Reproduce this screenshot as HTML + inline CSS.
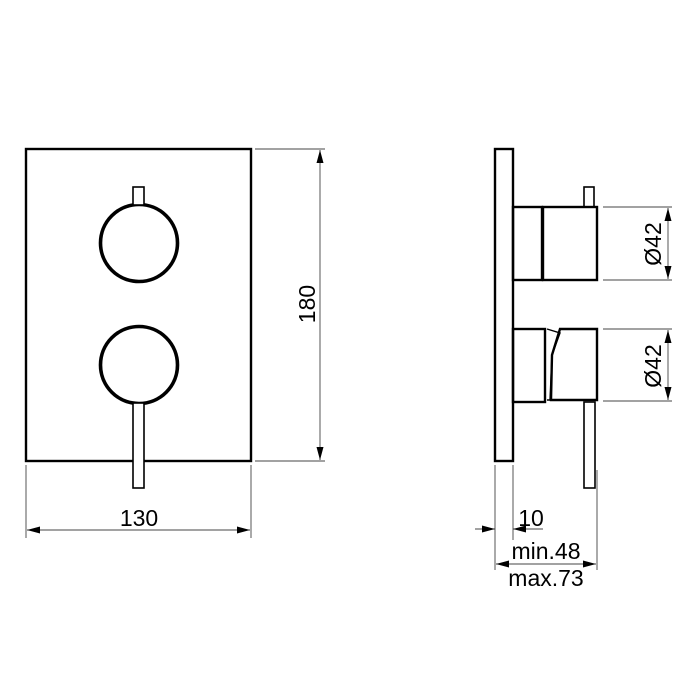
<!DOCTYPE html>
<html><head><style>body{margin:0;background:#fff}svg{display:block}</style></head><body>
<svg width="700" height="700" viewBox="0 0 700 700" xmlns="http://www.w3.org/2000/svg" font-family="Liberation Sans, sans-serif">
<defs><marker id="a" markerWidth="13" markerHeight="7" refX="13" refY="3.5" orient="auto-start-reverse" markerUnits="userSpaceOnUse"><path d="M0,0 L13,3.5 L0,7 Z" fill="#000"/></marker></defs>
<g fill="none" stroke="#000" stroke-width="2.4">
<rect x="26" y="149" width="225" height="312"/>
<circle cx="139" cy="243" r="38.5" stroke-width="3.6"/>
<circle cx="139" cy="365" r="38.5" stroke-width="3.6"/>
<rect x="133" y="187" width="11" height="18" fill="#fff" stroke-width="1.6"/>
<rect x="133" y="403" width="11" height="85" fill="#fff" stroke-width="1.6"/>
<rect x="495" y="149" width="18" height="312"/>
<rect x="513" y="207" width="29" height="73"/>
<rect x="543" y="207" width="54" height="73"/>
<rect x="584" y="187" width="10" height="20" stroke-width="1.6"/>
<rect x="513" y="329" width="32" height="73"/>
<path d="M547,329 L560,333 L552,355 L550,400 L547,400" stroke-width="1.4"/>
<path d="M560,329 L597,329 L597,400 L551,400 L552,355 Z"/>
<rect x="584" y="402" width="11" height="86" stroke-width="1.6"/>
</g>
<g stroke="#444" stroke-width="0.9" fill="none">
<path d="M255,149H325M255,461H325M603,207H672M603,280H672M603,329H672M603,401H672"/>
<path d="M26,465V538M251,465V538M495,465V570M513,465V540M597,470V570"/>
<line x1="320" y1="150" x2="320" y2="460" marker-start="url(#a)" marker-end="url(#a)"/>
<line x1="27" y1="530" x2="250" y2="530" marker-start="url(#a)" marker-end="url(#a)"/>
<line x1="668" y1="208" x2="668" y2="279" marker-start="url(#a)" marker-end="url(#a)"/>
<line x1="668" y1="330" x2="668" y2="400" marker-start="url(#a)" marker-end="url(#a)"/>
<line x1="475" y1="529" x2="495" y2="529" marker-end="url(#a)"/>
<line x1="543" y1="529" x2="513" y2="529" marker-end="url(#a)"/>
<line x1="496" y1="564" x2="596" y2="564" marker-start="url(#a)" marker-end="url(#a)"/>
</g>
<g font-size="23" fill="#000" text-anchor="middle">
<text x="139" y="526">130</text>
<text transform="translate(315,304) rotate(-90)">180</text>
<text transform="translate(661,244) rotate(-90)">Ø42</text>
<text transform="translate(661,366) rotate(-90)">Ø42</text>
<text x="531" y="526">10</text>
<text x="546" y="559">min.48</text>
<text x="546" y="586">max.73</text>
</g>
</svg>
</body></html>
